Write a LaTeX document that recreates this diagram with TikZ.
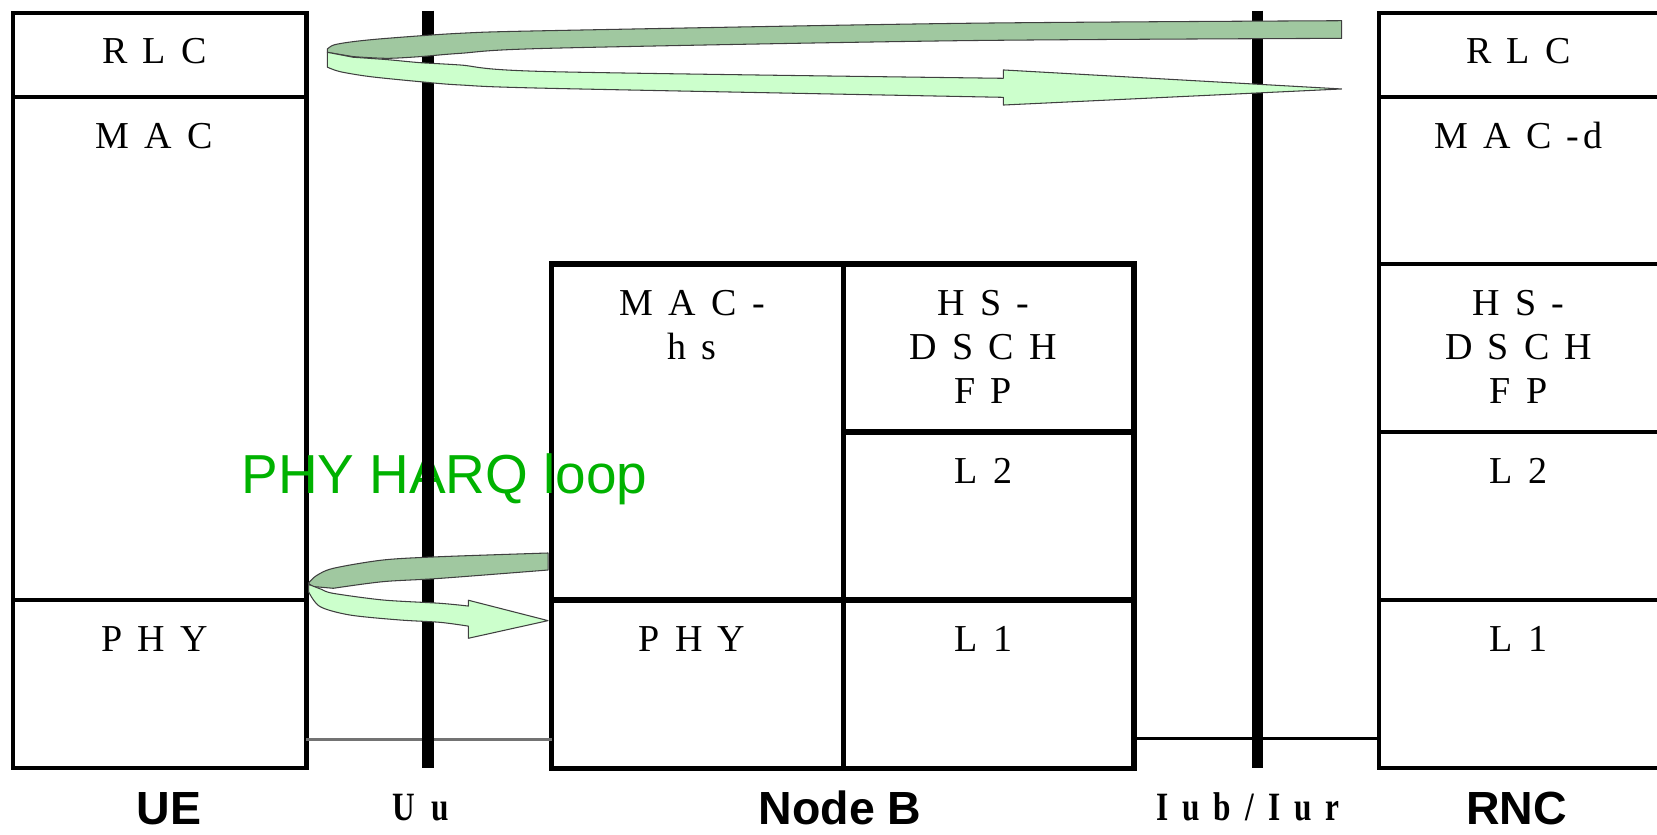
\documentclass[tikz,border=0pt]{standalone}
\usepackage{fontspec}
\setmainfont{Liberation Serif}
\newfontfamily\cellfont{Liberation Serif}[LetterSpace=40]
\newfontfamily\ifacefont{Liberation Serif}[LetterSpace=35,FakeStretch=0.78]
\newfontfamily\entityfont{Liberation Sans}
\newfontfamily\harqfont{Liberation Sans}
\usetikzlibrary{calc}
\definecolor{darkband}{RGB}{160,200,160}
\definecolor{lightband}{RGB}{204,255,204}
\definecolor{harqgreen}{RGB}{0,178,0}
\tikzset{
  cell/.style={draw=black, line width=2pt, anchor=north west, inner sep=0pt, outer sep=0pt},
  nbcell/.style={cell, line width=2.6pt},
  celltext/.style={anchor=base, inner sep=0pt, xshift=-2.5pt, font=\cellfont\fontsize{18pt}{20.75pt}\selectfont},
  entity/.style={anchor=base, inner sep=0pt, text depth=0pt, font=\entityfont\bfseries\fontsize{22pt}{25pt}\selectfont},
  iface/.style={anchor=base, inner sep=0pt, text depth=0pt, font=\ifacefont\bfseries\fontsize{19pt}{22pt}\selectfont},
  ifacebar/.style={line width=5.5pt, black},
  band/.style={draw=black!75, line width=0.5pt, line join=round},
  harq/.style={anchor=base west, inner sep=0pt, text=harqgreen, font=\harqfont\fontsize{26pt}{30pt}\selectfont}
}
\newcommand{\stack}[1]{\begin{tabular}[t]{@{}c@{}}#1\end{tabular}}
\begin{document}
\begin{tikzpicture}[x=0.5pt,y=-0.5pt]
\useasboundingbox (0,0) rectangle (1568,790);
\begin{scope}
\clip (0,0) rectangle (1568,790);
\fill[white] (0,0) rectangle (1568,790);

% UE stack
\node[cell, minimum width=139pt, minimum height=40pt] (ue-rlc) at (12,12) {};
\node[cell, minimum width=139pt, minimum height=238pt] (ue-mac) at (12,92) {};
\node[cell, minimum width=139pt, minimum height=79.5pt] (ue-phy) at (12,568) {};

% Node B stack
\node[nbcell, minimum width=138pt, minimum height=159pt] (nb-mac) at (522,250) {};
\node[nbcell, minimum width=137.5pt, minimum height=79.5pt] (nb-fp) at (798,250) {};
\node[nbcell, minimum width=137.5pt, minimum height=79.5pt] (nb-l2) at (798,409) {};
\node[nbcell, minimum width=138pt, minimum height=79.5pt] (nb-phy) at (522,568) {};
\node[nbcell, minimum width=137.5pt, minimum height=79.5pt] (nb-l1) at (798,568) {};

% RNC stack
\node[cell, minimum width=137pt, minimum height=40pt] (rnc-rlc) at (1305,12) {};
\node[cell, minimum width=137pt, minimum height=79pt] (rnc-mac) at (1305,92) {};
\node[cell, minimum width=137pt, minimum height=79.5pt] (rnc-fp) at (1305,250) {};
\node[cell, minimum width=137pt, minimum height=79.5pt] (rnc-l2) at (1305,409) {};
\node[cell, minimum width=137pt, minimum height=79.5pt] (rnc-l1) at (1305,568) {};
\end{scope}

% cell texts
\node[celltext] (t-ue-rlc) at ([yshift=-24.25pt]ue-rlc.north) {RLC};
\node[celltext] (t-ue-mac) at ([yshift=-24.25pt]ue-mac.north) {MAC};
\node[celltext] (t-ue-phy) at ([yshift=-24.25pt]ue-phy.north) {PHY};
\node[celltext] (t-nb-mac) at ([yshift=-24.25pt]nb-mac.north) {\stack{MAC-\\hs}};
\node[celltext] (t-nb-fp) at ([yshift=-24.25pt]nb-fp.north) {\stack{HS-\\DSCH\\FP}};
\node[celltext] (t-nb-l2) at ([yshift=-24.25pt]nb-l2.north) {L2};
\node[celltext] (t-nb-phy) at ([yshift=-24.25pt]nb-phy.north) {PHY};
\node[celltext] (t-nb-l1) at ([yshift=-24.25pt]nb-l1.north) {L1};
\node[celltext] (t-rnc-rlc) at ([yshift=-24.25pt]rnc-rlc.north) {RLC};
\node[celltext] (t-rnc-mac) at ([yshift=-24.25pt]rnc-mac.north) {MAC-\kern0.1em d};
\node[celltext] (t-rnc-fp) at ([yshift=-24.25pt]rnc-fp.north) {\stack{HS-\\DSCH\\FP}};
\node[celltext] (t-rnc-l2) at ([yshift=-24.25pt]rnc-l2.north) {L2};
\node[celltext] (t-rnc-l1) at ([yshift=-24.25pt]rnc-l1.north) {L1};

% HARQ text
\node[harq] (harq) at (228,467) {PHY HARQ loop};

% transport links at bottom
\draw[black!55, line width=1.2pt] ([yshift=13.5pt]ue-phy.south east) -- ([yshift=13.5pt]nb-phy.south west);
\draw[black, line width=1.5pt] ([yshift=14pt]nb-l1.south east) -- ([yshift=14pt]rnc-l1.south west);

% interface bars
\coordinate (uu-top) at (405,10);
\coordinate (uu-bot) at (405,727);
\coordinate (iub-top) at (1190,10);
\coordinate (iub-bot) at (1190,727);
\draw[ifacebar] (uu-top) -- (uu-bot);
\draw[ifacebar] (iub-top) -- (iub-bot);

% top loop arrow (RLC)
\filldraw[band, fill=darkband]
  plot[smooth, tension=0.5] coordinates {(1269.6,19.6) (909,22.1) (520,29) (435.3,31.5) (365.9,36.3) (334.3,39.4) (316,42.5) (309.7,46.5)}
  -- (309.7,49.5)
  -- plot[smooth, tension=0.5] coordinates {(334.3,53.6) (365.9,55.2) (397.4,53.6) (435.3,50.5) (520,45.7) (909,38.5) (1269.6,36.3)}
  -- cycle;
\filldraw[band, fill=lightband]
  (309.7,49.5)
  -- plot[smooth, tension=0.5] coordinates {(334.3,54.2) (365.9,56.4) (397.4,59.3) (435.3,61.5) (520.4,67.8) (949.4,74.1)}
  -- (949.4,66.2) -- (1269.6,84.2) -- (949.4,99.4)
  -- plot[smooth, tension=0.5] coordinates {(949.4,92.1) (520.4,83.6) (435.3,80.4) (397.4,77.3) (350.1,72.5) (321.7,67.8) (309.7,63.5)}
  -- cycle;

% bottom loop arrow (PHY HARQ)
\filldraw[band, fill=darkband]
  plot[smooth, tension=0.5] coordinates {(518.6,523.3) (416.4,526.8) (362.7,529.9) (315.4,537.8) (299,545) (291.8,552)}
  -- (296,555)
  -- plot[smooth, tension=0.5] coordinates {(315.4,556.7) (362.7,550.4) (416.4,547.3) (518.6,539.4)}
  -- cycle;
\filldraw[band, fill=lightband]
  (292,553)
  -- plot[smooth, tension=0.5] coordinates {(305,558) (315.4,561.5) (362.7,567.8) (416.4,570.9) (443.2,573.5)}
  -- (443.2,568) -- (518.6,587.3) -- (443.2,604)
  -- plot[smooth, tension=0.5] coordinates {(443.2,592.5) (416.4,588.9) (378.5,586.7) (331.2,582) (302.8,574) (292,560)}
  -- cycle;

% labels
\node[entity] (l-ue) at (160,780) {UE};
\node[entity] (l-nb) at (795,780) {Node B};
\node[entity] (l-rnc) at (1435,780) {RNC};
\node[iface] (l-uu) at (398,776) {U\hspace{8pt}u};
\node[iface] (l-iub) at (1181,776) {Iub/Iur};
\end{tikzpicture}
\end{document}
